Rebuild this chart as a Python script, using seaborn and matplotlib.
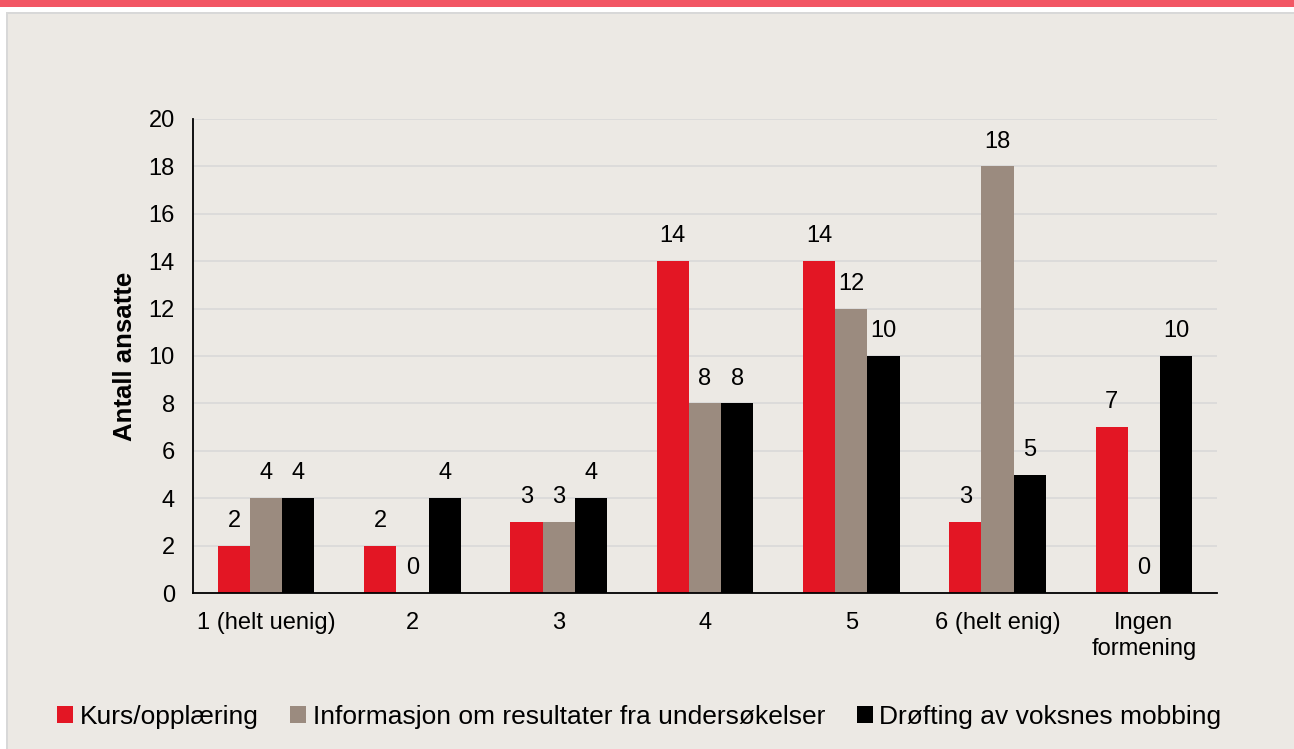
import matplotlib
matplotlib.use("Agg")
import matplotlib.pyplot as plt
import seaborn as sns
import pandas as pd
from matplotlib.patches import Rectangle

categories = ["1 (helt uenig)", "2", "3", "4", "5", "6 (helt enig)", "Ingen\nformening"]
series_names = ["Kurs/opplæring", "Informasjon om resultater fra undersøkelser", "Drøfting av voksnes mobbing"]
kurs = [2, 2, 3, 14, 14, 3, 7]
info = [4, 0, 3, 8, 12, 18, 0]
drofting = [4, 4, 4, 8, 10, 5, 10]
colors = ["#E31624", "#9B8B7F", "#000000"]
yticks = [0, 2, 4, 6, 8, 10, 12, 14, 16, 18, 20]

rows = []
for name, vals in zip(series_names, [kurs, info, drofting]):
    for c, v in zip(categories, vals):
        rows.append({"cat": c, "series": name, "val": v})
df = pd.DataFrame(rows)

sns.set_theme(style="white")
plt.rcParams['font.family'] = ['Liberation Sans', 'DejaVu Sans']

bg = "#ECE9E4"
fig = plt.figure(figsize=(12.94, 7.49), dpi=100)
fig.patch.set_facecolor("white")
# panel background and borders
fig.add_artist(Rectangle((7/1294, 0), 1 - 7/1294, 1 - 13/749, transform=fig.transFigure,
                         facecolor=bg, edgecolor="none", zorder=-10))
fig.add_artist(Rectangle((7/1294, 1 - 14/749), 1 - 7/1294, 2/749, transform=fig.transFigure,
                         facecolor="#D8D8D8", edgecolor="none", zorder=-9))
fig.add_artist(Rectangle((6/1294, 0), 2/1294, 1 - 12/749, transform=fig.transFigure,
                         facecolor="#D8D8D8", edgecolor="none", zorder=-9))
fig.add_artist(Rectangle((0, 1 - 7/749), 1, 7/749, transform=fig.transFigure,
                         facecolor="#F25664", edgecolor="none", zorder=-8))

ax = fig.add_axes([193/1294, 1 - 593/749, (1217 - 193)/1294, (593 - 119)/749])
ax.set_facecolor(bg)

sns.barplot(data=df, x="cat", y="val", hue="series", hue_order=series_names,
            palette=colors, width=0.66, ax=ax, saturation=1, edgecolor="none",
            linewidth=0)

for cont in ax.containers:
    ax.bar_label(cont, labels=[f"{int(v)}" for v in cont.datavalues], padding=10,
                 fontsize=17, color="#000000")

ax.set_ylim(0, 20)
ax.set_xlim(-0.5, 6.5)
ax.set_yticks(yticks)
ax.set_yticklabels([str(t) for t in yticks], fontsize=17)
ax.tick_params(axis="x", labelsize=17, length=0, pad=14, colors="#000000")
ax.tick_params(axis="y", length=0, pad=13, colors="#000000")
ax.yaxis.grid(True, color="#D9D9D9", linewidth=1.2)
ax.set_axisbelow(True)
for s in ["top", "right"]:
    ax.spines[s].set_visible(False)
ax.spines["left"].set_color("#000000")
ax.spines["bottom"].set_color("#000000")
ax.spines["left"].set_linewidth(1.3)
ax.spines["bottom"].set_linewidth(1.3)
ax.set_xlabel("")
ax.set_ylabel("Antall ansatte", fontsize=18.5, fontweight="bold", labelpad=8, color="#000000")

leg = ax.legend(loc="center", bbox_to_anchor=(0.436, -0.261), ncol=3, frameon=False,
                fontsize=19, handlelength=0.6, handleheight=0.6, handletextpad=0.25,
                columnspacing=1.2)
for t in leg.get_texts():
    t.set_color("#000000")

fig.savefig("out.png", dpi=100, facecolor=fig.get_facecolor())
